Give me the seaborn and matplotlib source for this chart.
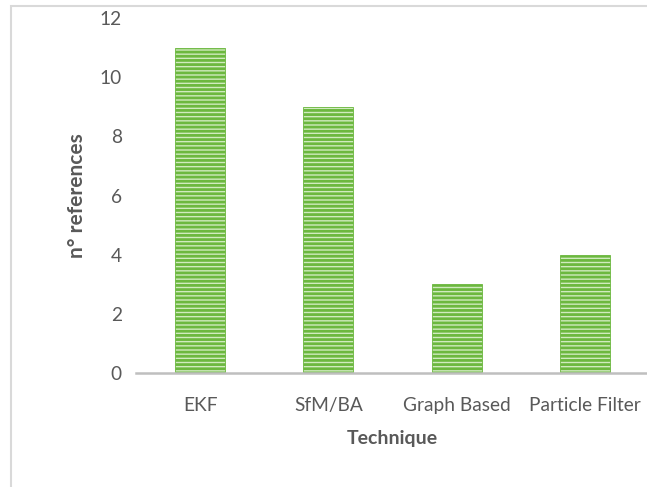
import matplotlib
matplotlib.use("Agg")
import matplotlib.pyplot as plt
import seaborn as sns
import pandas as pd
from matplotlib.patches import Rectangle

techniques = ["EKF", "SfM/BA", "Graph Based", "Particle Filter"]
n_references = [11, 9, 3, 4]
y_ticks = [0, 2, 4, 6, 8, 10, 12]

sns.set_theme(style="white")
plt.rcParams["font.family"] = ["Lato", "DejaVu Sans"]
plt.rcParams["hatch.linewidth"] = 2.0

df = pd.DataFrame({"Technique": techniques, "n° references": n_references})

fig = plt.figure(figsize=(6.47, 4.87), dpi=100)
ax = fig.add_axes([0.210, 0.234, 0.793, 0.729])

sns.barplot(data=df, x="Technique", y="n° references", ax=ax,
            color="#d0ebbf", width=0.39, saturation=1,
            edgecolor="#6cb83f", linewidth=0.6)
for bar in ax.patches:
    bar.set_hatch("----")

ax.set_ylim(0, 12)
ax.set_yticks(y_ticks)
ax.set_xlim(-0.5, 3.5)
label_color = "#595959"
ax.tick_params(axis="both", colors=label_color, labelsize=13.8, length=0)
ax.tick_params(axis="y", pad=10)
ax.tick_params(axis="x", pad=17)
for side in ["top", "right", "left"]:
    ax.spines[side].set_visible(False)
ax.spines["bottom"].set_color("#bfbfbf")
ax.spines["bottom"].set_linewidth(1.8)

ax.set_xlabel("Technique", fontsize=14, fontweight="bold", color=label_color, labelpad=12)
ax.set_ylabel("n° references", fontsize=15, fontweight="bold", color=label_color, labelpad=9)

# chart-area frame
fig.patches.append(Rectangle((11 / 647, -0.1), 1.2, 1.1 - 6 / 487,
                             transform=fig.transFigure, fill=False,
                             edgecolor="#d9d9d9", linewidth=1.5))

fig.savefig("out.png", dpi=100)
